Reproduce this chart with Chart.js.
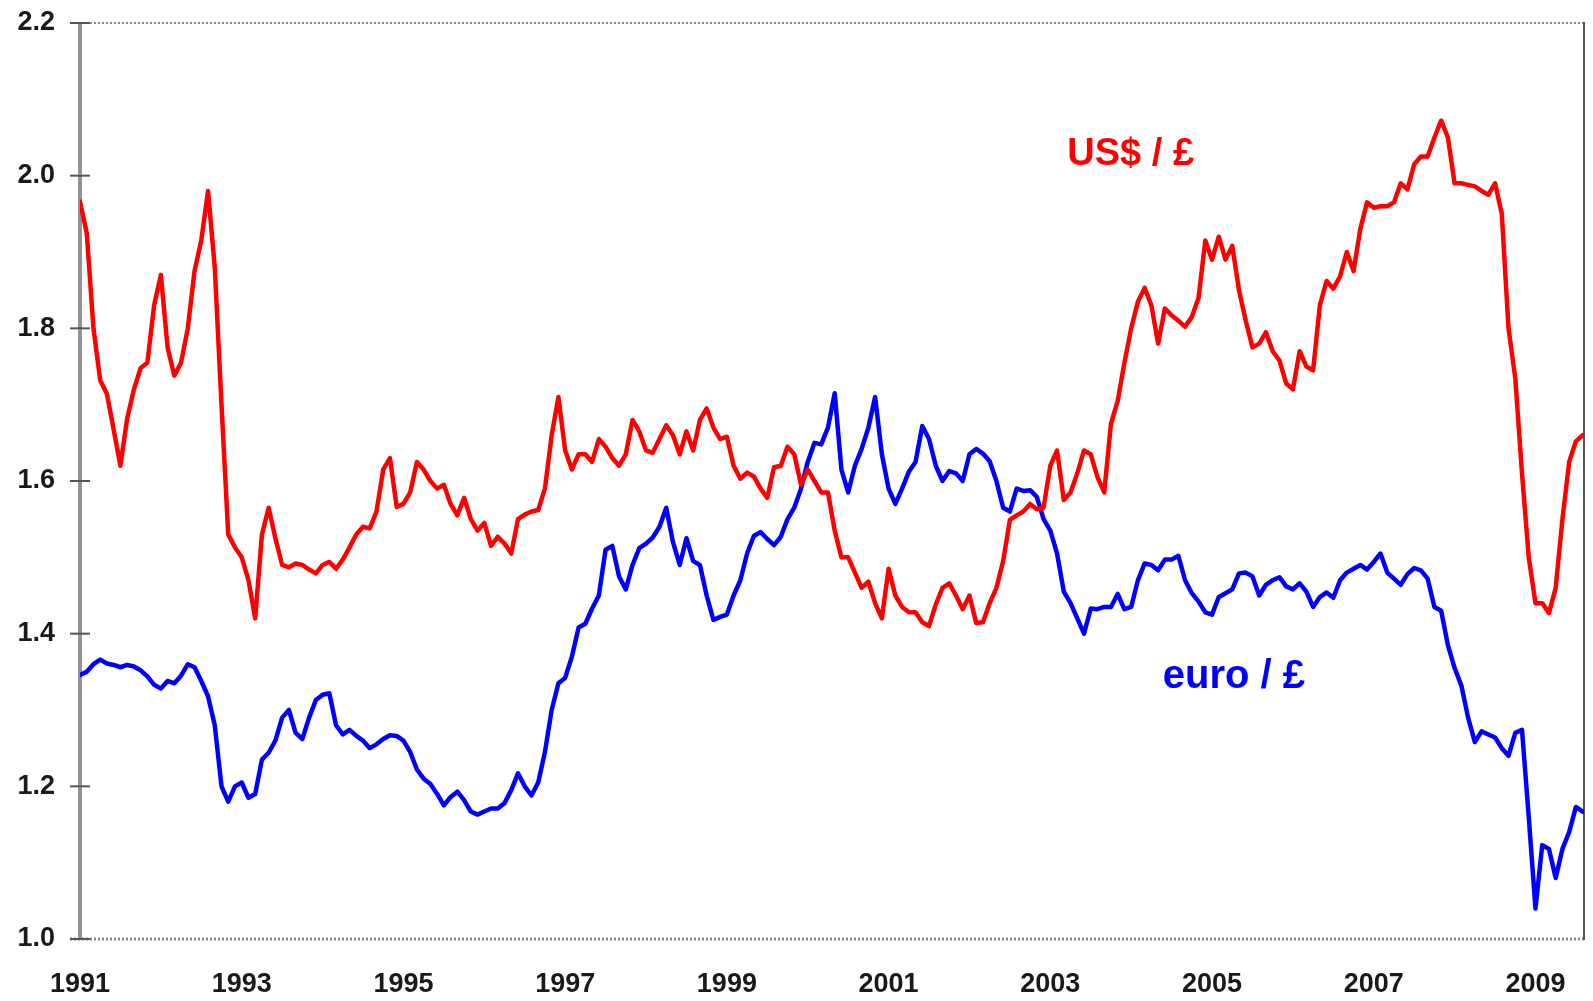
<!DOCTYPE html>
<html>
<head>
<meta charset="utf-8">
<script src="https://cdn.jsdelivr.net/npm/chart.js@4.4.1/dist/chart.umd.min.js"></script>
<style>
  html, body { margin: 0; padding: 0; background: #ffffff; }
  #wrap { width: 1593px; height: 1001px; }
</style>
</head>
<body>
<div id="wrap"><canvas id="c" width="1593" height="1001"></canvas></div>
<script>
// Monthly observations, Jan 1991 onward
const startYear = 1991;

const usdPerGbp = [
  1.966, 1.925, 1.80, 1.732, 1.714, 1.667, 1.62, 1.682, 1.72, 1.748, 1.755, 1.83,
  1.87, 1.775, 1.738, 1.755, 1.80, 1.875, 1.915, 1.98, 1.88, 1.70, 1.53, 1.513,
  1.50, 1.47, 1.42, 1.53, 1.565, 1.525, 1.49, 1.487, 1.492, 1.49, 1.484, 1.479,
  1.49, 1.494, 1.485, 1.497, 1.513, 1.53, 1.54, 1.538, 1.56, 1.615, 1.63, 1.566,
  1.57, 1.585, 1.625, 1.615, 1.60, 1.59, 1.595, 1.57, 1.555, 1.578, 1.55, 1.535,
  1.545, 1.515, 1.527, 1.518, 1.505, 1.55, 1.556, 1.56, 1.562, 1.59, 1.66, 1.71,
  1.64, 1.615, 1.635, 1.635, 1.625, 1.655, 1.645, 1.63, 1.62, 1.635, 1.68, 1.665,
  1.64, 1.637, 1.655, 1.673, 1.66, 1.635, 1.665, 1.64, 1.68, 1.695, 1.67, 1.655,
  1.658, 1.62, 1.603, 1.611, 1.606, 1.59, 1.578, 1.618, 1.62, 1.645, 1.635, 1.595,
  1.615, 1.60, 1.585, 1.585, 1.535, 1.50, 1.50, 1.48, 1.46, 1.468, 1.44, 1.42,
  1.485, 1.45, 1.435, 1.428, 1.428, 1.415, 1.41, 1.438, 1.46, 1.466, 1.45, 1.432,
  1.45, 1.414, 1.415, 1.44, 1.46, 1.495, 1.549, 1.555, 1.56, 1.57, 1.563, 1.565,
  1.62, 1.64, 1.575, 1.585, 1.61, 1.64, 1.635, 1.605, 1.585, 1.675, 1.705, 1.755,
  1.80, 1.835, 1.853, 1.83, 1.78, 1.826, 1.817, 1.81, 1.802, 1.815, 1.84, 1.915,
  1.89, 1.92, 1.89, 1.908, 1.85, 1.81, 1.775, 1.78, 1.795, 1.77, 1.758, 1.728,
  1.72, 1.77, 1.75, 1.745, 1.83, 1.862, 1.852, 1.868, 1.90, 1.875, 1.93, 1.965,
  1.958, 1.96, 1.96, 1.965, 1.99, 1.982, 2.015, 2.025, 2.025, 2.05, 2.072, 2.05,
  1.99, 1.99, 1.988, 1.986, 1.98, 1.975, 1.99, 1.95, 1.80, 1.735, 1.61, 1.50,
  1.44, 1.44, 1.427, 1.46, 1.55, 1.625, 1.652, 1.66
];

const eurPerGbp = [
  1.346, 1.35, 1.36, 1.366, 1.361, 1.359, 1.356, 1.359, 1.357, 1.352, 1.344, 1.333,
  1.328, 1.338, 1.335, 1.345, 1.36, 1.356, 1.338, 1.318, 1.28, 1.20, 1.18, 1.20,
  1.205, 1.185, 1.19, 1.235, 1.244, 1.26, 1.29, 1.30, 1.27, 1.262, 1.29, 1.313,
  1.32, 1.322, 1.28, 1.268, 1.274, 1.266, 1.26, 1.25, 1.255, 1.262, 1.267, 1.266,
  1.26, 1.245, 1.222, 1.21, 1.203, 1.19, 1.175, 1.186, 1.193, 1.182, 1.167, 1.163,
  1.167, 1.171, 1.171, 1.178, 1.195, 1.217, 1.20, 1.188, 1.205, 1.245, 1.30, 1.335,
  1.342, 1.37, 1.408, 1.413, 1.433, 1.45, 1.51, 1.515, 1.475, 1.458, 1.49, 1.512,
  1.518, 1.526, 1.54, 1.565, 1.52, 1.49, 1.525, 1.495, 1.49, 1.45, 1.418, 1.422,
  1.425, 1.45, 1.47, 1.505, 1.528, 1.533, 1.524, 1.516, 1.527, 1.55, 1.565, 1.59,
  1.625, 1.65, 1.648, 1.67, 1.715, 1.615, 1.585, 1.62, 1.642, 1.67, 1.71, 1.635,
  1.59, 1.57, 1.59, 1.612, 1.625, 1.672, 1.655, 1.62, 1.60, 1.613, 1.61, 1.60,
  1.635, 1.642, 1.636, 1.626, 1.60, 1.565, 1.56, 1.59, 1.587, 1.588, 1.579, 1.55,
  1.535, 1.505, 1.455, 1.44, 1.42, 1.40, 1.433, 1.432, 1.435, 1.435, 1.452, 1.432,
  1.435, 1.47, 1.492, 1.49, 1.483, 1.497, 1.497, 1.502, 1.47, 1.453, 1.442, 1.428,
  1.425, 1.448, 1.453, 1.458, 1.479, 1.48, 1.475, 1.45, 1.464, 1.47, 1.474, 1.462,
  1.458, 1.466, 1.455, 1.435, 1.448, 1.454, 1.447, 1.47, 1.48, 1.485, 1.49, 1.484,
  1.494, 1.505, 1.48, 1.472, 1.464, 1.478, 1.486, 1.483, 1.472, 1.435, 1.43, 1.385,
  1.355, 1.332, 1.29, 1.258, 1.272, 1.268, 1.264, 1.25, 1.24, 1.27, 1.274, 1.16,
  1.04, 1.123, 1.118, 1.08, 1.118, 1.14, 1.173, 1.167
];

const xTickYears = [1991, 1993, 1995, 1997, 1999, 2001, 2003, 2005, 2007, 2009];
const yTickValues = [1.0, 1.2, 1.4, 1.6, 1.8, 2.0, 2.2];

const seriesLabels = ['US$ / £', 'euro / £'];
// annotation anchors (year, value at text baseline)
const labelAnchors = [[2003.21, 2.014], [2004.39, 1.329]];

const FONT = "'Liberation Sans', Arial, Helvetica, sans-serif";

function toPoints(arr) {
  return arr.map((v, i) => ({ x: startYear + i / 12, y: v }));
}

const framePlugin = {
  id: 'frame',
  beforeDatasetsDraw(chart) {
    const { ctx, chartArea } = chart;
    const { left, right, top, bottom } = chartArea;
    const y = chart.scales.y;
    const seg = (x1, y1, x2, y2) => { ctx.beginPath(); ctx.moveTo(x1, y1); ctx.lineTo(x2, y2); ctx.stroke(); };
    ctx.save();
    ctx.lineCap = 'butt';
    ctx.strokeStyle = '#8a8a8a';
    ctx.setLineDash([2, 2]);
    ctx.lineWidth = 2;
    seg(left - 10, top, right, top);
    ctx.lineWidth = 3;
    seg(left - 10, bottom, right, bottom);
    ctx.setLineDash([]);
    ctx.strokeStyle = '#939393';
    ctx.lineWidth = 4;
    seg(left, top, left, bottom + 1);
    ctx.strokeStyle = '#555555';
    ctx.lineWidth = 2;
    seg(right, top - 1, right, bottom + 1);
    ctx.strokeStyle = '#555555';
    ctx.lineWidth = 2;
    yTickValues.forEach(v => {
      const p = y.getPixelForValue(v);
      seg(left - 10, p, left + 10, p);
    });
    ctx.restore();
  }
};

const labelPlugin = {
  id: 'seriesLabels',
  afterDatasetsDraw(chart) {
    const { ctx } = chart;
    const xs = chart.scales.x, ys = chart.scales.y;
    ctx.save();
    ctx.textAlign = 'left';
    ctx.textBaseline = 'alphabetic';
    const sizes = [38, 40];
    chart.data.datasets.forEach((ds, i) => {
      ctx.fillStyle = ds.borderColor;
      ctx.font = 'bold ' + sizes[i] + 'px ' + FONT;
      ctx.fillText(seriesLabels[i], xs.getPixelForValue(labelAnchors[i][0]), ys.getPixelForValue(labelAnchors[i][1]));
    });
    ctx.restore();
  }
};

new Chart(document.getElementById('c'), {
  type: 'line',
  data: {
    datasets: [
      { label: seriesLabels[0], data: toPoints(usdPerGbp), borderColor: '#ff0000', borderWidth: 4.5, pointRadius: 0, tension: 0, fill: false, borderJoinStyle: 'round', borderCapStyle: 'round' },
      { label: seriesLabels[1], data: toPoints(eurPerGbp), borderColor: '#0000ff', borderWidth: 4.5, pointRadius: 0, tension: 0, fill: false, borderJoinStyle: 'round', borderCapStyle: 'round' }
    ]
  },
  options: {
    responsive: false,
    animation: false,
    events: [],
    layout: { padding: { top: 23, right: 9, left: 0, bottom: 0 } },
    plugins: { legend: { display: false }, tooltip: { enabled: false } },
    scales: {
      x: {
        type: 'linear',
        min: 1991,
        max: 2009.6,
        grid: { display: false, drawTicks: false },
        border: { display: false },
        afterBuildTicks: s => { s.ticks = xTickYears.map(v => ({ value: v })); },
        afterFit: s => { s.height = 62; s.paddingLeft = 0; s.paddingRight = 0; },
        ticks: {
          autoSkip: false, maxRotation: 0, padding: 29,
          color: '#1a1a1a',
          font: { family: FONT, size: 27, weight: 'bold' },
          callback: v => String(v)
        }
      },
      y: {
        min: 1.0,
        max: 2.2,
        grid: { display: false, drawTicks: false },
        border: { display: false },
        afterBuildTicks: s => { s.ticks = yTickValues.map(v => ({ value: v })); },
        afterFit: s => { s.width = 80; s.paddingTop = 0; s.paddingBottom = 0; },
        ticks: {
          padding: 25,
          color: '#1a1a1a',
          font: { family: FONT, size: 27, weight: 'bold' },
          callback: v => Number(v).toFixed(1)
        }
      }
    }
  },
  plugins: [framePlugin, labelPlugin]
});
</script>
</body>
</html>
